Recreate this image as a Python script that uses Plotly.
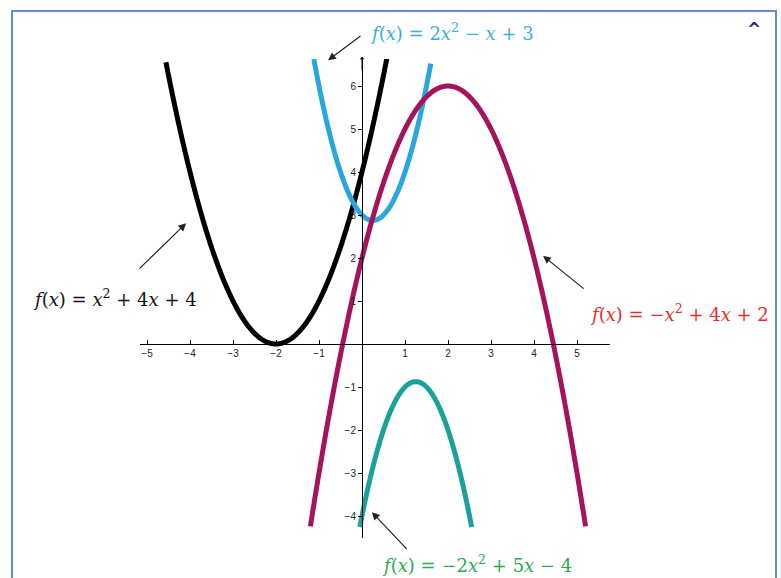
import numpy as np
import plotly.graph_objects as go

# Quadratic functions: coefficients (a, b, c) and plotted x-interval
names = ["f(x) = x² + 4x + 4", "f(x) = 2x² − x + 3", "f(x) = −x² + 4x + 2", "f(x) = −2x² + 5x − 4"]
coef_a = [1, 2, -1, -2]
coef_b = [4, -1, 4, 5]
coef_c = [4, 3, 2, -4]
x_start = [-4.56, -1.12, -1.2, -0.05]
x_end = [0.58, 1.60, 5.2, 2.55]
colors = ["#000000", "#27a6df", "#a3145c", "#1aa19b"]

x_ticks = [-5, -4, -3, -2, -1, 1, 2, 3, 4, 5]
y_ticks = [-4, -3, -2, -1, 1, 2, 3, 4, 5, 6]

label_html = [
    "<i>f</i>(<i>x</i>) = <i>x</i><sup>2</sup> + 4<i>x</i> + 4",
    "<i>f</i>(<i>x</i>) = 2<i>x</i><sup>2</sup> − <i>x</i> + 3",
    "<i>f</i>(<i>x</i>) = −<i>x</i><sup>2</sup> + 4<i>x</i> + 2",
    "<i>f</i>(<i>x</i>) = −2<i>x</i><sup>2</sup> + 5<i>x</i> − 4",
]
label_colors = ["#111111", "#3aaed8", "#e0302a", "#2fa84f"]
# label positions in pixels of the 781x578 page (anchor point, anchor side)
label_px = [(115, 298, "center"), (368, 32, "left"), (588, 313, "left"), (380, 564, "left")]
arrow_tail = [(-5.21, 1.72), (0.0, 7.19), (5.19, 1.26), (1.07, -4.8)]
arrow_head = [(-4.09, 2.81), (-0.79, 6.6), (4.21, 2.05), (0.23, -3.91)]

W, H = 781, 578
fig = go.Figure()
for a, b, c, x0, x1, col, nm in zip(coef_a, coef_b, coef_c, x_start, x_end, colors, names):
    xs = np.linspace(x0, x1, 400)
    ys = a * xs**2 + b * xs + c
    fig.add_trace(go.Scatter(x=xs, y=ys, mode="lines", name=nm,
                             line=dict(color=col, width=5, simplify=False), hoverinfo="skip"))

# pixel geometry of the axes
px0, px1 = 140, 610      # x-axis extent in pixels
py_top, py_bot = 59, 538  # y-axis extent in pixels
ox, oy, unit = 362, 344, 43.0

xr = [(px0 - ox) / unit, (px1 - ox) / unit]
yr = [(oy - py_bot) / unit, (oy - py_top) / unit]

annotations = []
for (lx, ly, anc), txt, col in zip(label_px, label_html, label_colors):
    annotations.append(dict(x=lx / W, y=1 - ly / H, xref="paper", yref="paper", text=txt, showarrow=False,
                            xanchor=anc, yanchor="middle",
                            font=dict(family="DejaVu Serif", size=18, color=col)))
for (ax_, ay_), (hx, hy) in zip(arrow_tail, arrow_head):
    annotations.append(dict(x=hx, y=hy, ax=ax_, ay=ay_, xref="x", yref="y", axref="x", ayref="y",
                            text="", showarrow=True, arrowhead=2, arrowsize=1.3, arrowwidth=1.2,
                            arrowcolor="#222222"))
# arrow tip on top of the y-axis
annotations.append(dict(x=0, y=yr[1] + 0.05, ax=0, ay=yr[1] - 0.3, xref="x", yref="y", axref="x", ayref="y",
                        text="", showarrow=True, arrowhead=1, arrowsize=0.8, arrowwidth=1, arrowcolor="#000"))
annotations.append(dict(x=763 / W, y=1 - 17 / H, xref="paper", yref="paper", text="<b>^</b>",
                        showarrow=False, font=dict(size=17, color="#1b2a7a", family="DejaVu Sans")))

tickfont = dict(family="Arial, Liberation Sans", size=10, color="#222")
fig.update_layout(
    width=W, height=H, margin=dict(l=0, r=0, t=0, b=0),
    paper_bgcolor="white", plot_bgcolor="white", showlegend=False,
    xaxis=dict(domain=[px0 / W, px1 / W], range=xr, anchor="free", position=(H - oy) / H,
               showline=True, linecolor="black", linewidth=1, showgrid=False, zeroline=False,
               tickvals=x_ticks, ticktext=[("−" + str(-v)) if v < 0 else str(v) for v in x_ticks],
               ticks="inside", ticklen=4, tickcolor="black", tickfont=tickfont),
    yaxis=dict(domain=[(H - py_bot) / H, (H - py_top) / H], range=yr, anchor="free", position=ox / W,
               showline=True, linecolor="black", linewidth=1, showgrid=False, zeroline=False,
               tickvals=y_ticks, ticktext=[("−" + str(-v)) if v < 0 else str(v) for v in y_ticks],
               ticks="outside", ticklen=4, tickcolor="black", tickfont=tickfont),
    annotations=annotations,
    shapes=[dict(type="rect", xref="paper", yref="paper", x0=12 / W, x1=776 / W, y0=-0.05, y1=1 - 11 / H,
                 line=dict(color="#5b8fd0", width=2), fillcolor="rgba(0,0,0,0)", layer="below")],
)

fig.write_html("out.html", config={"displayModeBar": False},
               post_script="document.body.style.margin='0';")
